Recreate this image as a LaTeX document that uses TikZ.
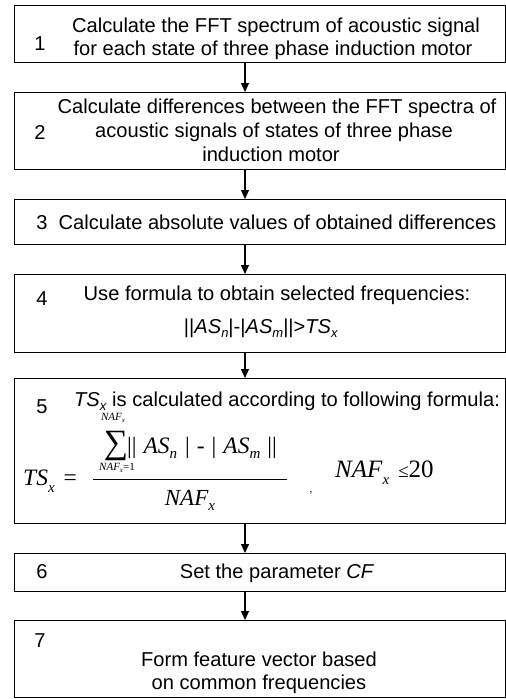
\documentclass[tikz,border=0pt]{standalone}
\usepackage{fontspec}
\setmainfont{Liberation Sans}
\newfontfamily\tms{Liberation Serif}
\usetikzlibrary{arrows.meta}
\newcommand\lowsub[2]{\raisebox{-#1}{#2}}
\tikzset{
  box/.style={draw, line width=1.2pt, minimum width=491pt, inner sep=0pt, anchor=north west},
  txt/.style={anchor=base, inner sep=0pt, font=\fontsize{20.1}{24}\selectfont},
  mth/.style={anchor=base west, inner sep=0pt, font=\tms\fontsize{23.5}{26}\selectfont},
  lim/.style={anchor=base, inner sep=0pt, font=\tms\itshape\fontsize{11}{12}\selectfont},
  arr/.style={-{Triangle[width=8pt,length=9pt]}, line width=1.2pt},
}
\begin{document}
\begin{tikzpicture}[x=1pt,y=-1pt]
\useasboundingbox (0,0) rectangle (506,699);
% boxes
\node[box, minimum height=57pt] (b1) at (13.5,5) {};
\node[box, minimum height=77pt] (b2) at (13.5,92) {};
\node[box, minimum height=45pt] (b3) at (13.5,199) {};
\node[box, minimum height=78pt] (b4) at (13.5,274) {};
\node[box, minimum height=145pt] (b5) at (13.5,378) {};
\node[box, minimum height=38pt] (b6) at (13.5,553) {};
\node[box, minimum height=77pt] (b7) at (13.5,620) {};
% arrows
\coordinate (ax) at (245,0);
\draw[arr] (b1.south -| ax) -- (b2.north -| ax);
\draw[arr] (b2.south -| ax) -- (b3.north -| ax);
\draw[arr] (b3.south -| ax) -- (b4.north -| ax);
\draw[arr] (b4.south -| ax) -- (b5.north -| ax);
\draw[arr] (b5.south -| ax) -- (b6.north -| ax);
\draw[arr] (b6.south -| ax) -- (b7.north -| ax);
% box 1
\node[txt] (n1) at (40,50) {1};
\node[txt] (t1a) at (276,32) {Calculate the FFT spectrum of acoustic signal};
\node[txt] (t1b) at (273,55) {for each state of three phase induction motor};
% box 2
\node[txt] (n2) at (40,139) {2};
\node[txt] (t2a) at (277,113) {Calculate differences between the FFT spectra of};
\node[txt] (t2b) at (274,137) {acoustic signals of states of three phase};
\node[txt] (t2c) at (271,161) {induction motor};
% box 3
\node[txt] (n3) at (42,229) {3};
\node[txt] (t3) at (277.5,229) {Calculate absolute values of obtained differences};
% box 4
\node[txt] (n4) at (42,305) {4};
\node[txt] (t4a) at (277,300) {Use formula to obtain selected frequencies:};
\node[txt] (t4b) at (261,333) {||\textit{AS}\lowsub{4pt}{\fontsize{13}{13}\selectfont\textit{n}}|-|\textit{AS}\lowsub{4pt}{\fontsize{13}{13}\selectfont\textit{m}}||>\textit{TS}\lowsub{4pt}{\fontsize{13}{13}\selectfont\textit{x}}};
% box 5
\node[txt] (n5) at (42,413) {5};
\node[txt] (t5a) at (287,406) {\textit{TS}\lowsub{4pt}{\fontsize{13}{13}\selectfont\textit{x}} is calculated according to following formula:};
\node[lim] (up) at (113,420) {NAF\lowsub{2pt}{\fontsize{7}{7}\selectfont x}};
\node[anchor=base, inner sep=0pt, font=\tms\fontsize{34}{34}\selectfont] (sig) at (116,453) {∑};
\node[mth] (numr) at (127,453) {||\hspace{7pt}\textit{AS}\lowsub{5pt}{\fontsize{15}{15}\selectfont\textit{n}}\hspace{8pt}|\hspace{7pt}-\hspace{7pt}|\hspace{7pt}\textit{AS}\lowsub{5pt}{\fontsize{15}{15}\selectfont\textit{m}}\hspace{7pt}||};
\node[lim] (low) at (117,470) {NAF\lowsub{2pt}{\fontsize{7}{7}\selectfont x}\upshape=1};
\node[mth] (lhs) at (23,485) {\textit{TS}\lowsub{7pt}{\fontsize{15}{15}\selectfont\textit{x}}\hspace{9pt}=};
\draw[line width=0.9pt] (93,479) -- (287,479);
\node[anchor=base, inner sep=0pt, font=\tms\fontsize{23}{26}\selectfont] (den) at (190,505) {\textit{NAF}\lowsub{5pt}{\fontsize{15}{15}\selectfont\textit{x}}};
\node[anchor=base, inner sep=0pt, font=\tms\fontsize{11}{12}\selectfont] (comma) at (311,492) {,};
\node[anchor=base west, inner sep=0pt, font=\tms\fontsize{25}{26}\selectfont] (cond) at (335,477) {\textit{NAF}\lowsub{7pt}{\fontsize{15}{15}\selectfont\textit{x}}\hspace{9pt}{\fontsize{19}{19}\selectfont ≤}20};
% box 6
\node[txt] (n6) at (42,578) {6};
\node[txt] (t6) at (277,578) {Set the parameter \textit{CF}};
% box 7
\node[txt] (n7) at (40,647) {7};
\node[txt] (t7a) at (259,666) {Form feature vector based};
\node[txt] (t7b) at (259,689) {on common frequencies};
\end{tikzpicture}
\end{document}
